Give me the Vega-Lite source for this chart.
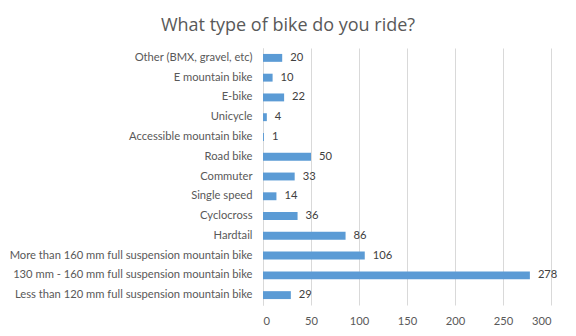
{
  "$schema": "https://vega.github.io/schema/vega-lite/v6.json",
  "autosize": {"type": "none"},
  "width": 288,
  "height": 257,
  "padding": {"left": 263, "top": 48, "right": 25, "bottom": 31},
  "background": "white",
  "title": {"text": "What type of bike do you ride?", "anchor": "middle", "dx": -119, "offset": 13, "fontSize": 18, "font": "Open Sans", "fontWeight": "normal", "color": "#595959"},
  "data": {"values": [
    {"type": "Other (BMX, gravel, etc)", "count": 20},
    {"type": "E mountain bike", "count": 10},
    {"type": "E-bike", "count": 22},
    {"type": "Unicycle", "count": 4},
    {"type": "Accessible mountain bike", "count": 1},
    {"type": "Road bike", "count": 50},
    {"type": "Commuter", "count": 33},
    {"type": "Single speed", "count": 14},
    {"type": "Cyclocross", "count": 36},
    {"type": "Hardtail", "count": 86},
    {"type": "More than 160 mm full suspension mountain bike", "count": 106},
    {"type": "130 mm - 160 mm full suspension mountain bike", "count": 278},
    {"type": "Less than 120 mm full suspension mountain bike", "count": 29}
  ]},
  "encoding": {
    "y": {"field": "type", "type": "nominal", "sort": null, "title": null,
      "scale": {"paddingInner": 0.6, "paddingOuter": 0.3},
      "axis": {"ticks": false, "domain": true, "domainColor": "#d9d9d9", "labelPadding": 11, "labelFont": "Lato", "labelFontSize": 11.2, "labelColor": "#595959", "labelLimit": 300}},
    "x": {"field": "count", "type": "quantitative", "title": null,
      "scale": {"domain": [0, 300]},
      "axis": {"values": [0, 50, 100, 150, 200, 250, 300], "grid": true, "gridColor": "#d9d9d9", "domain": false, "ticks": false, "labelPadding": 10, "labelFont": "Lato", "labelFontSize": 11.2, "labelColor": "#595959"}}
  },
  "layer": [
    {"mark": {"type": "bar", "color": "#5B9BD5"}},
    {"mark": {"type": "text", "align": "left", "dx": 8, "font": "Lato", "fontSize": 11.2, "color": "#404040"},
     "encoding": {"text": {"field": "count", "type": "quantitative"}}}
  ],
  "config": {"view": {"stroke": null}}
}
